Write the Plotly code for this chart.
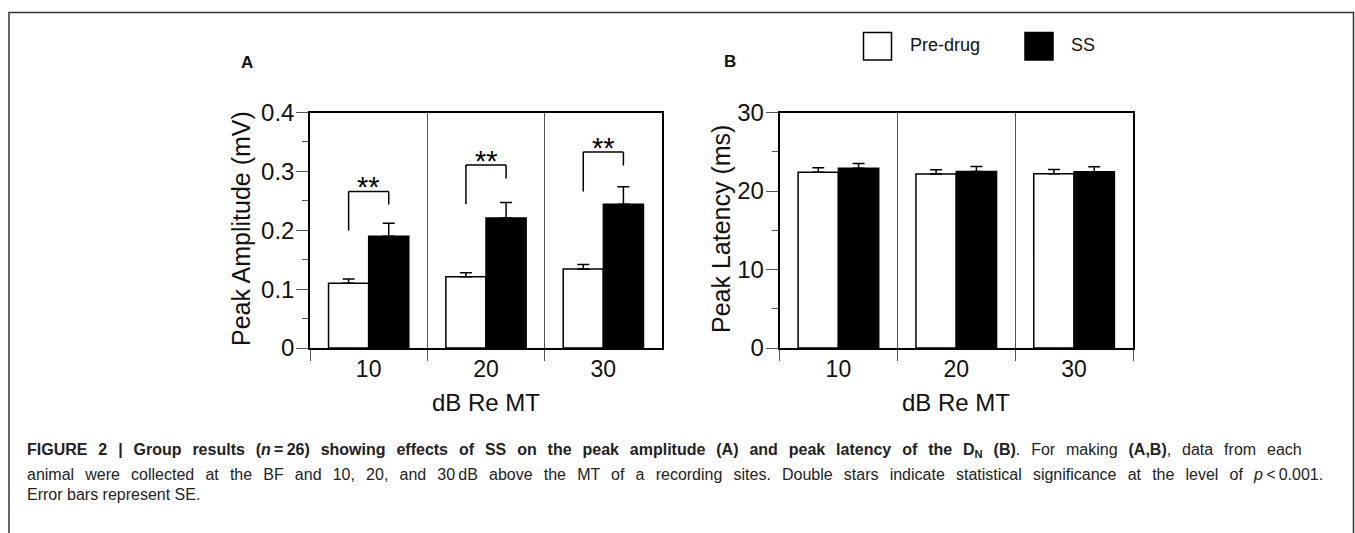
import plotly.graph_objects as go

# ---------------- data ----------------
categories = ["10", "20", "30"]

amp_pre = [0.110, 0.121, 0.134]
amp_pre_se = [0.007, 0.007, 0.008]
amp_ss = [0.190, 0.221, 0.244]
amp_ss_se = [0.022, 0.026, 0.030]

lat_pre = [22.4, 22.15, 22.2]
lat_pre_se = [0.55, 0.55, 0.55]
lat_ss = [22.9, 22.5, 22.45]
lat_ss_se = [0.6, 0.62, 0.65]

# significance brackets (panel A): left-leg bottom, top, right-leg bottom
sig_left = [0.199, 0.244, 0.266]
sig_top = [0.266, 0.311, 0.333]
sig_right = [0.2436, 0.288, 0.310]
sig_text = ["**", "**", "**"]

amp_ticks = [0, 0.1, 0.2, 0.3, 0.4]
amp_ticktext = ["0", "0.1", "0.2", "0.3", "0.4"]
lat_ticks = [0, 10, 20, 30]

legend_names = ["Pre-drug", "SS"]

# ---------------- layout helpers ----------------
W, H = 1355, 533
def px(x):
    return x / W
def py(y):
    return 1 - y / H

FONT = "Liberation Sans, Arial, Helvetica, sans-serif"
BARGAP = 0.316
half = (1 - BARGAP) / 4  # offset of each bar centre from category centre

fig = go.Figure()

bar_style = dict(
    pre=dict(marker=dict(color="white", line=dict(color="black", width=1.5))),
    ss=dict(marker=dict(color="black", line=dict(color="black", width=1.5))),
)

def err(arr):
    return dict(type="data", array=arr, arrayminus=[0] * len(arr), symmetric=False,
                color="black", thickness=1.5, width=6)

fig.add_trace(go.Bar(x=categories, y=amp_pre, name=legend_names[0], error_y=err(amp_pre_se),
                     xaxis="x", yaxis="y", showlegend=False, **bar_style["pre"]))
fig.add_trace(go.Bar(x=categories, y=amp_ss, name=legend_names[1], error_y=err(amp_ss_se),
                     xaxis="x", yaxis="y", showlegend=False, **bar_style["ss"]))
fig.add_trace(go.Bar(x=categories, y=lat_pre, name=legend_names[0], error_y=err(lat_pre_se),
                     xaxis="x2", yaxis="y2", showlegend=False, **bar_style["pre"]))
fig.add_trace(go.Bar(x=categories, y=lat_ss, name=legend_names[1], error_y=err(lat_ss_se),
                     xaxis="x2", yaxis="y2", showlegend=False, **bar_style["ss"]))

xax = dict(
    type="category", range=[-0.5, 2.5], tickson="boundaries",
    ticks="outside", ticklen=11, tickwidth=1, tickcolor="#555",
    showgrid=True, gridcolor="#555", gridwidth=1,
    showline=True, linecolor="black", linewidth=1.5, mirror=True,
    tickfont=dict(family=FONT, size=23, color="#111"),
    zeroline=False, fixedrange=True,
)
yax = dict(
    ticks="outside", ticklen=12, tickwidth=1, tickcolor="#555",
    showgrid=False, zeroline=False,
    showline=True, linecolor="black", linewidth=1.5, mirror=True,
    tickfont=dict(family=FONT, size=24, color="#111"),
    ticklabelstandoff=-3,
)

dom_y = [py(348), py(112.5)]
fig.update_layout(
    width=W, height=H,
    margin=dict(l=0, r=0, t=0, b=0),
    paper_bgcolor="white", plot_bgcolor="white",
    barmode="group", bargap=BARGAP, bargroupgap=0,
    template="none",
    xaxis=dict(domain=[px(310), px(662)], anchor="y", **xax),
    yaxis=dict(domain=dom_y, anchor="x", range=[0, 0.4], tickvals=amp_ticks, ticktext=amp_ticktext,
               minor=dict(dtick=0.05, ticks="outside", ticklen=6, tickcolor="#555", showgrid=False), **yax),
    xaxis2=dict(domain=[px(779.5), px(1133)], anchor="y2", **xax),
    yaxis2=dict(domain=dom_y, anchor="x2", range=[0, 30], tickvals=lat_ticks,
                minor=dict(dtick=5, ticks="outside", ticklen=6, tickcolor="#555", showgrid=False), **yax),
)

shapes = []
annotations = []

# significance brackets and stars
for i in range(len(categories)):
    xl, xr = i - half, i + half
    line = dict(color="black", width=1.5)
    shapes.append(dict(type="line", xref="x", yref="y", x0=xl, x1=xl, y0=sig_left[i], y1=sig_top[i], line=line))
    shapes.append(dict(type="line", xref="x", yref="y", x0=xl, x1=xr, y0=sig_top[i], y1=sig_top[i], line=line))
    shapes.append(dict(type="line", xref="x", yref="y", x0=xr, x1=xr, y0=sig_top[i], y1=sig_right[i], line=line))
    annotations.append(dict(xref="x", yref="y", x=i, y=sig_top[i], text=sig_text[i], showarrow=False,
                            xanchor="center", yanchor="bottom", yshift=-14,
                            font=dict(family=FONT, size=29, color="black")))

# axis titles
annotations += [
    dict(xref="paper", yref="paper", x=px(241), y=py(229), text="Peak Amplitude (mV)", textangle=-90,
         showarrow=False, xanchor="center", yanchor="middle", font=dict(family=FONT, size=25, color="#111")),
    dict(xref="paper", yref="paper", x=px(721), y=py(229), text="Peak Latency (ms)", textangle=-90,
         showarrow=False, xanchor="center", yanchor="middle", font=dict(family=FONT, size=25, color="#111")),
    dict(xref="paper", yref="paper", x=px(486), y=py(402), text="dB Re MT",
         showarrow=False, xanchor="center", yanchor="middle", font=dict(family=FONT, size=24, color="#111")),
    dict(xref="paper", yref="paper", x=px(956), y=py(402), text="dB Re MT",
         showarrow=False, xanchor="center", yanchor="middle", font=dict(family=FONT, size=24, color="#111")),
    dict(xref="paper", yref="paper", x=px(239), y=py(62.5), text="<b>A</b>",
         showarrow=False, xanchor="left", yanchor="middle", font=dict(family=FONT, size=17, color="#111")),
    dict(xref="paper", yref="paper", x=px(722), y=py(61.5), text="<b>B</b>",
         showarrow=False, xanchor="left", yanchor="middle", font=dict(family=FONT, size=17, color="#111")),
]

# custom legend
leg = [(863.5, "white", legend_names[0], 908), (1025, "black", legend_names[1], 1069)]
for x0, col, name, tx in leg:
    shapes.append(dict(type="rect", xref="paper", yref="paper", x0=px(x0), x1=px(x0 + 28),
                       y0=py(60), y1=py(32.5), fillcolor=col, line=dict(color="black", width=1.5)))
    annotations.append(dict(xref="paper", yref="paper", x=px(tx), y=py(44.5), text=name, showarrow=False,
                            xanchor="left", yanchor="middle", font=dict(family=FONT, size=18, color="#111")))

# frame around figure
shapes.append(dict(type="rect", xref="paper", yref="paper", x0=px(9), x1=px(1353.5), y0=py(560), y1=py(12.5),
                   line=dict(color="#333", width=1.5), fillcolor="rgba(0,0,0,0)", layer="below"))

# caption (first two lines justified via word spacing)
CAP = "Liberation Sans, Arial, sans-serif"
cap_lines = [
    "<b>FIGURE 2 | Group results (<i>n</i>\u2009=\u200926) showing effects of SS on the peak amplitude (A) and peak latency of the D<sub>N</sub> (B)</b>. For making <b>(A,B)</b>, data from each",
    "animal were collected at the BF and 10, 20, and 30\u2009dB above the MT of a recording sites. Double stars indicate statistical significance at the level of <i>p</i>\u2009&lt;\u20090.001.",
    "Error bars represent SE.",
]
cap_spacing = [6.45, 6.7, 0]
cap_y = [450, 474, 494]
for t, ws, yy in zip(cap_lines, cap_spacing, cap_y):
    txt = f'<span style="word-spacing:{ws}px">{t}</span>' if ws else t
    annotations.append(dict(xref="paper", yref="paper", x=px(25), y=py(yy), text=txt, showarrow=False,
                            xanchor="left", yanchor="middle", align="left",
                            font=dict(family=CAP, size=16, color="#222")))

fig.update_layout(shapes=shapes, annotations=annotations)
fig.write_html("out.html", config={"displayModeBar": False},
               post_script="document.body.style.margin='0px';")
